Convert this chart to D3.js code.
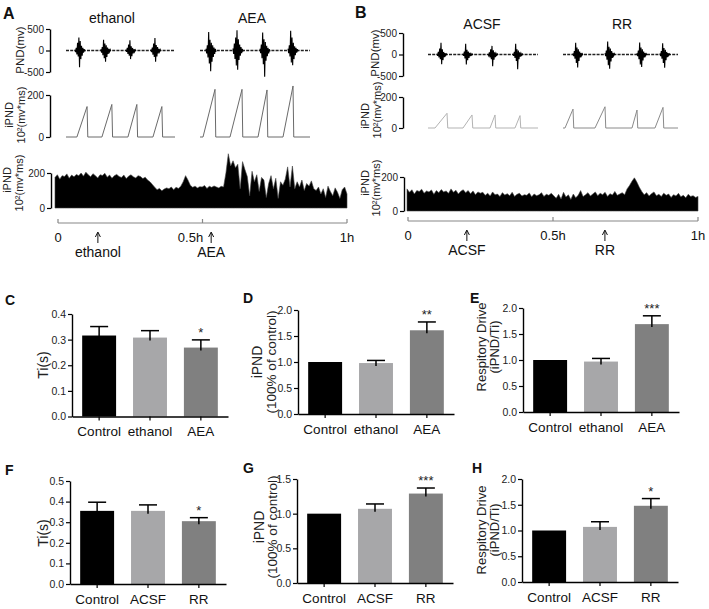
<!DOCTYPE html>
<html>
<head>
<meta charset="utf-8">
<script src="https://cdn.jsdelivr.net/npm/d3@7"></script>
<style>
  body { margin: 0; background: #fff; }
  svg { font-family: "Liberation Sans", Arial, sans-serif; }
</style>
</head>
<body>
<div id="chart"></div>
<script>
// ---------- data ----------

// raw PND bursts: burst centres (s) and spike amplitudes (mv) within each burst
const pndEthanolCentres = [0.56, 1.61, 2.62, 3.63];
const pndEthanolSpikes = [
  [20, -40, 60, -90, 180, -140, 300, -390, 220, -200, 110, -120, 60, -50, 30, -20],
  [30, -50, 80, -110, 250, -180, 160, -260, 120, -150, 70, -80, 40, -30, 20, -15],
  [20, -30, 60, -80, 140, -120, 240, -200, 100, -130, 60, -70, 30, -30, 15, -10],
  [25, -40, 70, -100, 160, -150, 290, -260, 130, -140, 80, -70, 40, -30, 20, -15]
];
const pndAeaCentres = [0.44, 1.52, 2.6, 3.72];
const pndAeaSpikes = [
  [40, -70, 120, -160, 430, -300, 250, -480, 180, -260, 120, -150, 70, -80, 40, -30],
  [50, -80, 160, -200, 300, -350, 470, -450, 260, -220, 140, -120, 80, -60, 40, -25],
  [40, -60, 140, -180, 420, -320, 260, -610, 200, -240, 110, -130, 60, -70, 30, -20],
  [40, -60, 120, -140, 460, -280, 300, -340, 180, -200, 100, -110, 60, -50, 30, -20]
];
const pndAcsfCentres = [0.56, 1.6, 2.6, 3.6];
const pndAcsfSpikes = [
  [20, -30, 60, -70, 140, -110, 270, -227, 120, -130, 60, -60, 30, -25, 15, -10],
  [20, -30, 70, -90, 250, -230, 110, -130, 70, -80, 40, -40, 20, -15, 10, -8],
  [15, -25, 50, -70, 120, -110, 200, -270, 100, -120, 50, -60, 25, -20, 12, -8],
  [20, -30, 60, -80, 250, -150, 120, -340, 90, -110, 50, -50, 25, -20, 12, -8]
];
const pndRrCentres = [0.6, 1.88, 3.16, 4.08];
const pndRrSpikes = [
  [25, -40, 80, -100, 270, -200, 160, -300, 120, -150, 70, -70, 35, -30, 15, -10],
  [30, -40, 90, -120, 300, -250, 180, -330, 140, -160, 80, -80, 40, -30, 20, -10],
  [30, -40, 90, -110, 280, -230, 160, -290, 120, -140, 70, -70, 35, -30, 15, -10],
  [25, -35, 80, -100, 260, -200, 150, -310, 110, -130, 60, -60, 30, -25, 15, -10]
];

// integrated PND ramps: onset (s), peak (s), peak value (10^2 mv*ms)
const ipndEthanolOnset = [0.44, 1.45, 2.5, 3.51];
const ipndEthanolPeakT = [0.85, 1.85, 2.86, 3.87];
const ipndEthanolPeak = [145, 155, 155, 145];
const ipndAeaOnset = [0.12, 1.2, 2.32, 3.32];
const ipndAeaPeakT = [0.6, 1.68, 2.68, 3.72];
const ipndAeaPeak = [227, 227, 224, 243];
const ipndAcsfOnset = [0.28, 1.4, 2.48, 3.48];
const ipndAcsfPeakT = [0.76, 1.76, 2.68, 3.68];
const ipndAcsfPeak = [95, 84, 84, 80];
const ipndRrOnset = [0.08, 1.28, 2.76, 3.68];
const ipndRrPeakT = [0.4, 1.68, 2.96, 4.0];
const ipndRrPeak = [122, 137, 116, 133];

// one-hour iPND recordings (evenly spaced samples, 10^2 mv*ms)
const hourAEA = [
  175, 190, 165, 185, 180, 195, 170, 188, 178, 192, 185, 200, 182, 205, 190, 178, 196, 185, 172, 190,
  186, 198, 176, 188, 170, 185, 192, 180, 175, 188, 168, 182, 190, 178, 172, 185, 180, 168, 176, 160,
  150, 135, 118, 105, 112, 98, 108, 115,
  110, 120, 105, 118, 112, 125,
  150, 185, 160, 130,
  118, 125, 115, 122, 120, 128, 112, 124, 118, 126, 120, 115, 124, 120,
  200, 310, 240,
  270, 230, 250, 110, 265, 220,
  180, 70, 210, 150, 190, 95, 175,
  160, 60, 140, 185, 110, 170, 55, 150, 130, 165,
  235, 120, 240, 110,
  150, 120, 160, 100, 140, 125, 155, 110,
  100, 120, 80, 110, 60, 125, 95, 70, 115, 90, 55, 105, 120, 80
];
const hourRR = [
  130, 110, 125, 100, 120, 115, 128, 105, 118, 112, 124, 98, 120, 108, 126, 112, 118, 104, 130, 110,
  122, 100, 116, 125, 108, 120, 102, 118, 96, 112, 105,
  110, 92, 105, 88, 112, 95, 100, 85, 108, 94, 102, 90, 110, 86, 98, 104, 88, 96, 92, 106,
  84, 100, 90, 95, 108, 86, 98, 92, 104,
  90, 75, 98, 70, 110, 82, 95, 68, 100, 78, 92, 120, 85,
  95, 108, 88, 100, 112, 90, 104, 96, 110, 86, 102, 94, 115, 92, 100, 108, 96,
  130, 150, 175, 195, 170, 140,
  115, 95, 108, 88, 102, 112, 90, 98, 85, 105, 92, 100, 80, 96, 88, 104, 84, 92, 78, 98,
  86, 90, 80, 86
];

// drug application times (h)
const eventsA = [{ t: 0.138, label: "ethanol" }, { t: 0.53, label: "AEA" }];
const eventsB = [{ t: 0.203, label: "ACSF" }, { t: 0.679, label: "RR" }];

// bar charts: mean and SEM
const groupsAEA = ["Control", "ethanol", "AEA"];
const groupsRR = ["Control", "ACSF", "RR"];
const tiAEA = [0.316, 0.308, 0.269];
const tiAEAErr = [0.035, 0.027, 0.030];
const ipndAEA = [1.0, 0.98, 1.61];
const ipndAEAErr = [0, 0.05, 0.16];
const driveAEA = [1.0, 0.97, 1.69];
const driveAEAErr = [0, 0.06, 0.16];
const tiRR = [0.355, 0.355, 0.305];
const tiRRErr = [0.042, 0.029, 0.017];
const ipndRR = [1.0, 1.07, 1.29];
const ipndRRErr = [0, 0.07, 0.08];
const driveRR = [1.0, 1.07, 1.48];
const driveRRErr = [0, 0.10, 0.14];
const starsAEA = [["", "", "*"], ["", "", "**"], ["", "", "***"]];
const starsRR = [["", "", "*"], ["", "", "***"], ["", "", "*"]];

const barColors = ["#000000", "#a7a7a9", "#808080"];

// ---------- drawing ----------
const svg = d3.select("#chart")
  .append("svg")
  .attr("width", 709)
  .attr("height", 609);

function styleAxis(g, fontSize) {
  g.select(".domain").attr("stroke", "#000").attr("stroke-width", 1.4);
  g.selectAll(".tick line").attr("stroke", "#000").attr("stroke-width", 1.2);
  g.selectAll(".tick text")
    .attr("fill", "#222")
    .style("font-size", fontSize + "px")
    .style("font-family", "Liberation Sans, Arial, sans-serif");
}

function vText(x, y, text, size) {
  svg.append("text")
    .attr("transform", `translate(${x},${y}) rotate(-90)`)
    .attr("text-anchor", "middle")
    .attr("dy", "0.35em")
    .style("font-size", size + "px")
    .attr("fill", "#222")
    .text(text);
}

function label(x, y, text, size, weight, anchor) {
  svg.append("text")
    .attr("x", x)
    .attr("y", y)
    .attr("text-anchor", anchor || "middle")
    .style("font-size", size + "px")
    .style("font-weight", weight || "normal")
    .attr("fill", "#111")
    .text(text);
}

// small vertical axis used by the trace panels
function traceAxis(x, yScale, ticks) {
  const g = svg.append("g")
    .attr("transform", `translate(${x},0)`)
    .call(d3.axisLeft(yScale).tickValues(ticks).tickSize(4).tickSizeOuter(0)
      .tickPadding(2).tickFormat(d => d < 0 ? "-" + Math.abs(d) : d));
  styleAxis(g, 10);
}

// raw PND trace: dashed baseline plus spike bursts
function drawPND(xScale, yScale, duration, centres, spikes) {
  const line = d3.line().x(d => xScale(d[0])).y(d => yScale(d[1]));
  svg.append("path")
    .datum([[0, 0], [duration, 0]])
    .attr("d", line)
    .attr("stroke", "#222")
    .attr("stroke-width", 1.5)
    .attr("stroke-dasharray", "3,1.2")
    .attr("fill", "none");
  centres.forEach((c, i) => {
    const amps = spikes[i];
    const span = 0.4;
    const pts = amps.map((a, j) => [c - span / 2 + j * span / (amps.length - 1), a]);
    svg.append("path")
      .datum(pts)
      .attr("d", line)
      .attr("stroke", "#000")
      .attr("stroke-width", 1.1)
      .attr("fill", "none");
  });
}

// integrated PND ramps
function drawIPND(xScale, yScale, duration, onsets, peakT, peaks, colour) {
  const pts = [[0, 0]];
  onsets.forEach((o, i) => {
    pts.push([o, 0], [peakT[i], peaks[i]], [peakT[i] + 0.03, 0]);
  });
  pts.push([duration, 0]);
  svg.append("path")
    .datum(pts)
    .attr("d", d3.line().x(d => xScale(d[0])).y(d => yScale(d[1])))
    .attr("stroke", colour)
    .attr("stroke-width", 1)
    .attr("fill", "none");
}

// one-hour filled iPND trace
function drawHour(xRange, yScale, values) {
  const x = d3.scaleLinear().domain([0, values.length - 1]).range(xRange);
  svg.append("path")
    .datum(values)
    .attr("d", d3.area().x((d, i) => x(i)).y0(yScale(0)).y1(d => yScale(d)))
    .attr("fill", "#000")
    .attr("stroke", "#444")
    .attr("stroke-width", 0.6);
}

// time line with drug arrows
function drawTimeline(xRange, y, events, midShift) {
  const x = d3.scaleLinear().domain([0, 1]).range(xRange);
  svg.append("line")
    .attr("x1", x(0)).attr("x2", x(1))
    .attr("y1", y).attr("y2", y)
    .attr("stroke", "#888").attr("stroke-width", 1.2);
  [0, 0.5, 1].forEach(t => {
    svg.append("line")
      .attr("x1", x(t)).attr("x2", x(t))
      .attr("y1", y - 4).attr("y2", y)
      .attr("stroke", "#888").attr("stroke-width", 1.2);
  });
  label(x(0), y + 19, "0", 13);
  label(x(0.5) + midShift, y + 19, "0.5h", 13);
  label(x(1), y + 19, "1h", 13);
  events.forEach(e => {
    const ex = x(e.t);
    svg.append("line")
      .attr("x1", ex).attr("x2", ex)
      .attr("y1", y + 10).attr("y2", y + 20)
      .attr("stroke", "#111").attr("stroke-width", 1);
    svg.append("path")
      .attr("d", `M${ex - 2.5},${y + 14} L${ex},${y + 9} L${ex + 2.5},${y + 14}`)
      .attr("stroke", "#111").attr("stroke-width", 1).attr("fill", "none");
    label(ex, y + 34, e.label, 14);
  });
}

// ---------- panel A ----------
label(3, 19, "A", 16, "bold", "start");
label(112, 23, "ethanol", 14);
label(252, 23, "AEA", 14);

const pndYA = d3.scaleLinear().domain([-500, 500]).range([72, 29]);
traceAxis(50, pndYA, [500, 0, -500]);
vText(20, 50, "PND(mv)", 11.5);
const xEth = d3.scaleLinear().domain([0, 4.4]).range([66, 175]);
const xAea = d3.scaleLinear().domain([0, 4.4]).range([200, 310]);
drawPND(xEth, pndYA, 4.4, pndEthanolCentres, pndEthanolSpikes);
drawPND(xAea, pndYA, 4.4, pndAeaCentres, pndAeaSpikes);

const ipndYA = d3.scaleLinear().domain([0, 200]).range([137, 95]);
traceAxis(50, ipndYA, [200, 0]);
vText(9, 115, "iPND", 11);
vText(21, 115, "10²(mv*ms)", 11);
drawIPND(xEth, ipndYA, 4.4, ipndEthanolOnset, ipndEthanolPeakT, ipndEthanolPeak, "#6a6a6a");
drawIPND(xAea, ipndYA, 4.4, ipndAeaOnset, ipndAeaPeakT, ipndAeaPeak, "#6a6a6a");

const hourYA = d3.scaleLinear().domain([0, 200]).range([208, 173]);
drawHour([55, 347], hourYA, hourAEA);
traceAxis(51, hourYA, [200, 0]);
vText(7, 180, "iPND", 11);
vText(19, 183, "10²(mv*ms)", 11);
drawTimeline([58, 347], 223, eventsA, -12);

// ---------- panel B ----------
label(355, 18, "B", 16, "bold", "start");
label(482, 29, "ACSF", 14);
label(622, 29, "RR", 14);

const pndYB = d3.scaleLinear().domain([-500, 500]).range([76, 33]);
traceAxis(403, pndYB, [500, 0, -500]);
vText(375, 53, "PND(mv)", 11.5);
const xAcsf = d3.scaleLinear().domain([0, 4.4]).range([428, 538]);
const xRr = d3.scaleLinear().domain([0, 4.6]).range([563, 678]);
drawPND(xAcsf, pndYB, 4.4, pndAcsfCentres, pndAcsfSpikes);
drawPND(xRr, pndYB, 4.6, pndRrCentres, pndRrSpikes);

const ipndYB = d3.scaleLinear().domain([0, 200]).range([128, 97]);
traceAxis(403, ipndYB, [200, 0]);
vText(365, 116, "iPND", 11);
vText(377, 110, "10²(mv*ms)", 11);
drawIPND(xAcsf, ipndYB, 4.4, ipndAcsfOnset, ipndAcsfPeakT, ipndAcsfPeak, "#b3b3b3");
drawIPND(xRr, ipndYB, 4.6, ipndRrOnset, ipndRrPeakT, ipndRrPeak, "#8a8a8a");

const hourYB = d3.scaleLinear().domain([0, 200]).range([211, 177]);
drawHour([407, 698], hourYB, hourRR);
traceAxis(404, hourYB, [200, 0]);
vText(365, 183, "iPND", 11);
vText(376, 188, "10²(mv*ms)", 11);
drawTimeline([408, 698], 221, eventsB, 0);

// ---------- bar charts ----------
function barPanel(cfg) {
  const x = d3.scaleBand()
    .domain(cfg.groups)
    .range([cfg.x0, cfg.x0 + 156])
    .paddingInner(0.333)
    .paddingOuter(0.2);
  const y = d3.scaleLinear().domain([0, cfg.max]).range([cfg.y0, cfg.yTop]);

  cfg.groups.forEach((g, i) => {
    svg.append("rect")
      .attr("x", x(g))
      .attr("y", y(cfg.means[i]))
      .attr("width", x.bandwidth())
      .attr("height", y(0) - y(cfg.means[i]))
      .attr("fill", barColors[i]);
    if (cfg.errs[i] > 0) {
      const cx = x(g) + x.bandwidth() / 2;
      const top = y(cfg.means[i] + cfg.errs[i]);
      svg.append("line")
        .attr("x1", cx).attr("x2", cx)
        .attr("y1", y(cfg.means[i]) + 3).attr("y2", top)
        .attr("stroke", "#000").attr("stroke-width", 1.5);
      svg.append("line")
        .attr("x1", cx - 9).attr("x2", cx + 9)
        .attr("y1", top).attr("y2", top)
        .attr("stroke", "#000").attr("stroke-width", 1.5);
      if (cfg.stars[i]) {
        svg.append("text")
          .attr("x", cx)
          .attr("y", top - 3)
          .attr("text-anchor", "middle")
          .style("font-size", "13px")
          .attr("fill", "#222")
          .text(cfg.stars[i]);
      }
    }
  });

  const gx = svg.append("g")
    .attr("transform", `translate(0,${cfg.y0})`)
    .call(d3.axisBottom(x).tickSize(4).tickSizeOuter(0).tickPadding(6));
  styleAxis(gx, 13.5);
  gx.selectAll(".tick text").attr("fill", "#111");

  const ticks = d3.range(0, cfg.max + 1e-9, cfg.step);
  const gy = svg.append("g")
    .attr("transform", `translate(${cfg.x0},0)`)
    .call(d3.axisLeft(y).tickValues(ticks).tickSize(4).tickSizeOuter(0)
      .tickPadding(2).tickFormat(d3.format(".1f")));
  styleAxis(gy, 10.5);

  label(cfg.letter[1], cfg.letter[2], cfg.letter[0], 14, "bold", "start");
  cfg.ylab.forEach(l => vText(l[1], cfg.ylabY, l[0], l[2]));
}

barPanel({ groups: groupsAEA, means: tiAEA, errs: tiAEAErr, stars: starsAEA[0],
  x0: 72, y0: 416.5, yTop: 314, max: 0.4, step: 0.1,
  letter: ["C", 5, 305], ylab: [["Ti(s)", 43, 14]], ylabY: 365 });
barPanel({ groups: groupsAEA, means: ipndAEA, errs: ipndAEAErr, stars: starsAEA[1],
  x0: 298, y0: 414, yTop: 310, max: 2.0, step: 0.5,
  letter: ["D", 243, 303], ylab: [["iPND", 257, 14], ["(100% of control)", 271, 13.5]], ylabY: 362 });
barPanel({ groups: groupsAEA, means: driveAEA, errs: driveAEAErr, stars: starsAEA[2],
  x0: 523, y0: 412, yTop: 308, max: 2.0, step: 0.5,
  letter: ["E", 470, 303], ylab: [["Respitory Drive", 481, 13], ["(iPND/Ti)", 494, 13]], ylabY: 347 });
barPanel({ groups: groupsRR, means: tiRR, errs: tiRRErr, stars: starsRR[0],
  x0: 70, y0: 584, yTop: 481, max: 0.5, step: 0.1,
  letter: ["F", 5, 475], ylab: [["Ti(s)", 43, 14]], ylabY: 533 });
barPanel({ groups: groupsRR, means: ipndRR, errs: ipndRRErr, stars: starsRR[1],
  x0: 297, y0: 583, yTop: 479, max: 1.5, step: 0.5,
  letter: ["G", 243, 473], ylab: [["iPND", 259, 14], ["(100% of control)", 272, 13.5]], ylabY: 527 });
barPanel({ groups: groupsRR, means: driveRR, errs: driveRRErr, stars: starsRR[2],
  x0: 522, y0: 582, yTop: 479, max: 2.0, step: 0.5,
  letter: ["H", 472, 473], ylab: [["Respitory Drive", 481, 13], ["(iPND/Ti)", 494, 13]], ylabY: 530 });
</script>
</body>
</html>
